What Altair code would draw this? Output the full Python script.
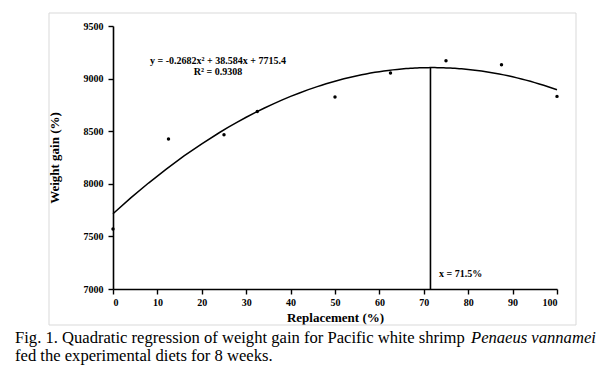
import altair as alt
import pandas as pd

# Data
replacement = [0, 12.5, 25, 32.5, 50, 62.5, 75, 87.5, 100]
weight_gain = [7570, 8426, 8467, 8688, 8825, 9053, 9170, 9132, 8831]
x_ticks = [0, 10, 20, 30, 40, 50, 60, 70, 80, 90, 100]
y_ticks = [7000, 7500, 8000, 8500, 9000, 9500]
optimum_x = 71.5
optimum_y = 9103
equation_lines = ["y = -0.2682x\u00b2 + 38.584x + 7715.4", "R\u00b2 = 0.9308"]
optimum_label = "x = 71.5%"
caption_1 = "Fig. 1. Quadratic regression of weight gain for Pacific white shrimp "
caption_1_italic = "Penaeus vannamei"
caption_2 = "fed the experimental diets for 8 weeks."

df = pd.DataFrame({"x": replacement, "y": weight_gain})
opt_df = pd.DataFrame({"x": [optimum_x], "y": [7000], "y2": [optimum_y]})

FONT = "Times New Roman, Liberation Serif, serif"

xs = alt.Scale(domain=[0, 100], nice=False)
ys = alt.Scale(domain=[7000, 9500], nice=False)

xaxis = alt.Axis(values=x_ticks, title="Replacement (%)", grid=False, format="d",
                 labelFont=FONT, labelFontWeight="bold", labelFontSize=10,
                 titleFont=FONT, titleFontWeight="bold", titleFontSize=13,
                 titlePadding=4, labelPadding=3, tickSize=5,
                 domainColor="black", tickColor="black", domainWidth=1.6, tickWidth=1.4,
                 labelColor="black", titleColor="black")
yaxis = alt.Axis(values=y_ticks, title="Weight gain (%)", grid=False, format="d",
                 labelFont=FONT, labelFontWeight="bold", labelFontSize=10,
                 titleFont=FONT, titleFontWeight="bold", titleFontSize=13,
                 titlePadding=22, labelPadding=5, tickSize=5,
                 domainColor="black", tickColor="black", domainWidth=1.6, tickWidth=1.4,
                 labelColor="black", titleColor="black")

base = alt.Chart(df)

border = alt.Chart(pd.DataFrame({"a": [0]})).mark_rect(
    fill=None, stroke="#d9d9d9", strokeWidth=1
).encode(x=alt.value(-64), x2=alt.value(463), y=alt.value(-13), y2=alt.value(299))

curve = base.transform_regression(
    "x", "y", method="poly", order=2, extent=[0, 100]
).mark_line(color="black", strokeWidth=1.5).encode(
    x=alt.X("x:Q", scale=xs, axis=xaxis),
    y=alt.Y("y:Q", scale=ys, axis=yaxis),
)

points = base.mark_circle(color="black", size=12, opacity=1).encode(
    x=alt.X("x:Q", scale=xs),
    y=alt.Y("y:Q", scale=ys),
)

rule = alt.Chart(opt_df).mark_rule(color="black", strokeWidth=1.6).encode(
    x=alt.X("x:Q", scale=xs), y=alt.Y("y:Q", scale=ys), y2="y2:Q"
)

def txt(s, x, y, size=10, weight="bold", style="normal", align="center", baseline="middle"):
    return alt.Chart(pd.DataFrame({"t": [s]})).mark_text(
        font=FONT, fontSize=size, fontWeight=weight, fontStyle=style,
        align=align, baseline=baseline, color="black"
    ).encode(text="t:N", x=alt.value(x), y=alt.value(y))

eq1 = txt(equation_lines[0], 105, 35)
eq2 = txt(equation_lines[1], 105, 46)
optl = txt(optimum_label, 326, 248, align="left")
cap1 = txt(caption_1, -98, 316.5, size=16.6, weight="normal", align="left", baseline="alphabetic")
cap1i = txt(caption_1_italic, 358, 316.5, size=16.6, weight="normal", style="italic", align="left", baseline="alphabetic")
cap2 = txt(caption_2, -98, 334.5, size=16.6, weight="normal", align="left", baseline="alphabetic")

chart = alt.layer(border, curve, points, rule, eq1, eq2, optl, cap1, cap1i, cap2).properties(
    width=444, height=263,
    autosize=alt.AutoSizeParams(type="none"),
    padding={"left": 105, "top": 18, "right": 51, "bottom": 78},
    background="white",
).configure_view(stroke=None)

chart.save("out.html", embed_options={"renderer": "svg", "actions": False})
